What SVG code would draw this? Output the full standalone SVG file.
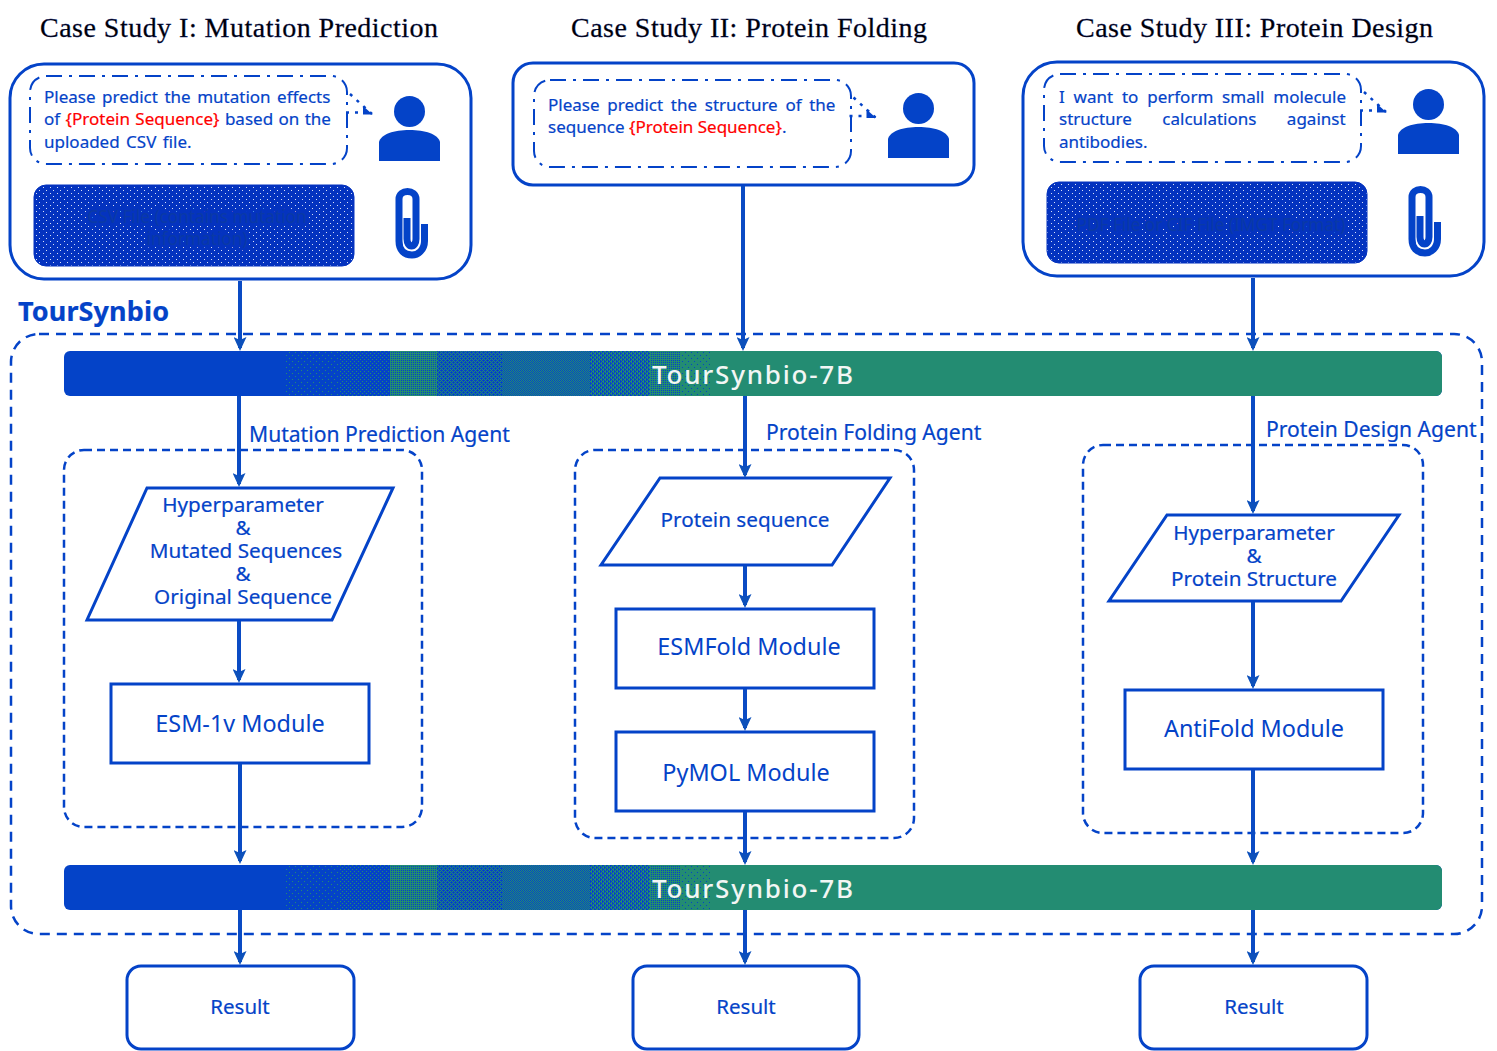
<svg xmlns="http://www.w3.org/2000/svg" width="1497" height="1051" viewBox="0 0 1497 1051">
<defs>
<pattern id="d1" width="6" height="6" patternUnits="userSpaceOnUse"><rect x="1" y="1" width="1" height="1" fill="#238c72"/><rect x="4" y="4" width="1" height="1" fill="#238c72"/></pattern>
<pattern id="d2" width="4" height="4" patternUnits="userSpaceOnUse"><rect x="0" y="0" width="1" height="1" fill="#238c72"/><rect x="2" y="2" width="1" height="1" fill="#238c72"/></pattern>
<pattern id="d3" width="2" height="2" patternUnits="userSpaceOnUse"><rect width="1" height="1" fill="#238c72"/></pattern>
<pattern id="d4" width="4" height="4" patternUnits="userSpaceOnUse"><rect width="1" height="1" fill="#238c72"/><rect x="2" width="1" height="1" fill="#238c72"/><rect y="2" width="1" height="1" fill="#238c72"/><rect x="2" y="2" width="1" height="1" fill="#238c72"/><rect x="1" y="1" width="1" height="1" fill="#238c72"/><rect x="3" y="3" width="1" height="1" fill="#238c72"/></pattern>
<pattern id="d5" width="2" height="2" patternUnits="userSpaceOnUse"><rect width="1" height="1" fill="#238c72"/><rect x="1" y="1" width="1" height="1" fill="#238c72"/></pattern>
<pattern id="d7" width="4" height="4" patternUnits="userSpaceOnUse"><path d="M0 0h2v1h-2zM1 1h1v1h-1zM3 1h1v1h-1zM2 2h2v1h-2zM1 3h1v1h-1zM3 3h1v1h-1z" fill="#238c72"/></pattern>
<pattern id="d6" width="2" height="2" patternUnits="userSpaceOnUse"><rect width="2" height="1" fill="#238c72"/><rect y="1" width="1" height="1" fill="#238c72"/></pattern>
<pattern id="d8" width="6" height="6" patternUnits="userSpaceOnUse"><rect width="6" height="6" fill="#238c72"/><rect x="1" y="1" width="1" height="1" fill="#0443c8"/><rect x="4" y="4" width="1" height="1" fill="#0443c8"/></pattern>
<pattern id="dots" width="7" height="6" patternUnits="userSpaceOnUse"><rect width="7" height="6" fill="#0433bf"/><rect x="1" y="1" width="1" height="1" fill="#fff" opacity=".85"/><rect x="4" y="4" width="1" height="1" fill="#fff" opacity=".85"/></pattern>
<marker id="arr" viewBox="0 0 14 13" refX="11" refY="6.500" markerWidth="14" markerHeight="13" markerUnits="userSpaceOnUse" orient="auto"><path d="M0 0L14 6.500L0 13L3 6.500Z" fill="#0c50bb"/></marker>
<g id="user"><circle cx="30.500" cy="15.500" r="15.500" fill="#0443c8"/><path d="M0 65V46C2 38 15 34 30.500 34C46 34 59 38 61 46V65Z" fill="#0443c8"/></g>
<g id="clip"><path d="M29.500 36V53C29.500 62 23 67 17 67C9 67 4 62 4 53V11C4 6 8 3.500 12.500 3.500C17 3.500 21 6 21 11V51C21 55 19 58 16.500 58C14 58 12 55 12 51V30" fill="none" stroke="#0443c8" stroke-width="7"/></g>
<g id="tail"><path d="M350 94L372 114" fill="none" stroke="#0443c8" stroke-width="2.500" stroke-dasharray="3 6"/><path d="M346 112.500H362" fill="none" stroke="#0443c8" stroke-width="2.500" stroke-dasharray="3 6"/><path d="M363 106L372.700 114.500H363Z" fill="#0443c8"/></g>
<g id="dither">
<rect x="64" width="1378" height="45" rx="6" fill="#0443c8"/>
<rect x="710" width="732" height="45" rx="6" fill="#238c72"/>
<rect x="700" width="30" height="45" fill="#238c72"/>
<rect x="285" width="55" height="45" fill="url(#d1)"/>
<rect x="340" width="50" height="45" fill="url(#d2)"/>
<rect x="390" width="47" height="45" fill="url(#d6)"/>
<rect x="437" width="66" height="45" fill="url(#d4)"/>
<rect x="503" width="87" height="45" fill="url(#d5)"/>
<rect x="590" width="60" height="45" fill="url(#d7)"/>
<rect x="650" width="30" height="45" fill="url(#d6)"/>
<rect x="680" width="30" height="45" fill="url(#d8)"/>
</g>
<style>
.t{font-family:"Noto Sans","Open Sans","Liberation Sans",sans-serif;fill:#0443c8;stroke:#0443c8;stroke-width:.2}
.h{font-family:"Liberation Serif",serif;font-size:28px;fill:#000;stroke:#0a1a70;stroke-width:.3}
.b{font-size:17px}
.m{font-size:20.700px;text-anchor:middle}
.mod{font-size:23.400px;text-anchor:middle;stroke-width:0}
.ag{font-size:21.100px}
.c{fill:none;stroke:#0a4bc4;stroke-width:4;marker-end:url(#arr)}
.card{fill:#fff;stroke:#0443c8;stroke-width:3}
.bub{fill:#fff;stroke:#0443c8;stroke-width:2;stroke-dasharray:16 7 3 7}
.dash{fill:none;stroke:#0443c8;stroke-width:2.500;stroke-dasharray:8 5}
.outer{fill:none;stroke:#0443c8;stroke-width:2.500;stroke-dasharray:10 7}
.shape{fill:#fff;stroke:#0443c8;stroke-width:3}
.file{fill:url(#dots);stroke:#0433bf;stroke-width:1}
.ft{font-size:17.200px;fill:#0a3aa6;stroke:#0433bf;stroke-width:5px;paint-order:stroke;stroke-linejoin:round;text-anchor:middle}
.bt{font-family:"Noto Sans","Open Sans",sans-serif;font-size:26px;font-weight:500;fill:#f2f6f4}
.red{fill:#f00;stroke:#f00}
</style>
</defs>
<rect width="1497" height="1051" fill="#fff"/>
<text class="h" x="40" y="37" textLength="398">Case Study I: Mutation Prediction</text>
<text class="h" x="571" y="37" textLength="356">Case Study II: Protein Folding</text>
<text class="h" x="1076" y="37" textLength="357">Case Study III: Protein Design</text>

<g id="system">
<rect x="11" y="334" width="1471" height="600" rx="28" class="outer"/>
<text class="t" x="18" y="321" font-size="27" font-weight="700" textLength="151">TourSynbio</text>
</g>

<g id="bar-top">
<use href="#dither" y="351"/>
<text class="bt" x="652" y="384" textLength="201">TourSynbio-7B</text>
</g>
<g id="bar-bottom">
<use href="#dither" y="865"/>
<text class="bt" x="652" y="898" textLength="201">TourSynbio-7B</text>
</g>

<g id="case1">
<rect x="10" y="64" width="461" height="215" rx="34" class="card"/>
<rect x="30" y="76" width="317" height="88" rx="16" class="bub"/>
<use href="#tail"/>
<text class="t b"><tspan x="44" y="103" word-spacing="2.100">Please predict the mutation effects</tspan><tspan x="44" y="125" word-spacing="1">of <tspan class="red">{Protein Sequence}</tspan> based on the</tspan><tspan x="44" y="148" word-spacing="2">uploaded CSV file.</tspan></text>
<use href="#user" x="379" y="96"/>
<rect x="34" y="185" width="320" height="81" rx="12" class="file"/>
<text class="t ft" x="197" y="223">CSV File (contains mutation</text><text class="t ft" x="197" y="245">information)</text>
<use href="#clip" x="395" y="188"/>
</g>

<g id="case2">
<rect x="513" y="63" width="461" height="122" rx="20" class="card"/>
<rect x="534" y="80" width="317" height="87" rx="16" class="bub"/>
<use href="#tail" x="503.500" y="3.500"/>
<text class="t b"><tspan x="548" y="111" word-spacing="3.300">Please predict the structure of the</tspan><tspan x="548" y="133">sequence <tspan class="red">{Protein Sequence}</tspan>.</tspan></text>
<use href="#user" x="888" y="93"/>
</g>

<g id="case3">
<rect x="1023" y="62" width="461" height="214" rx="34" class="card"/>
<rect x="1044" y="74" width="317" height="88" rx="16" class="bub"/>
<use href="#tail" x="1014" y="-2"/>
<text class="t b"><tspan x="1059" y="103" word-spacing="4.400">I want to perform small molecule</tspan><tspan x="1059" y="125" word-spacing="26">structure calculations against</tspan><tspan x="1059" y="148">antibodies.</tspan></text>
<use href="#user" x="1398" y="89"/>
<rect x="1047" y="182" width="320" height="81" rx="12" class="file"/>
<text class="t ft" x="1211" y="231">PDF File or CIF File (IMGT Format)</text>
<use href="#clip" x="1408" y="186"/>
</g>

<g id="agent-mutation">
<text class="t ag" x="249" y="442">Mutation Prediction Agent</text>
<rect x="64" y="450" width="358" height="377" rx="20" class="dash"/>
</g>
<g id="agent-folding">
<text class="t ag" x="766" y="440">Protein Folding Agent</text>
<rect x="575" y="450" width="339" height="388" rx="20" class="dash"/>
</g>
<g id="agent-design">
<text class="t ag" x="1266" y="437">Protein Design Agent</text>
<rect x="1083" y="445" width="340" height="388" rx="20" class="dash"/>
</g>

<g id="input1">
<path class="shape" d="M147 488H393L332 620H87Z"/>
<text class="t m"><tspan x="243" y="512">Hyperparameter</tspan><tspan x="243" y="535">&amp;</tspan><tspan x="246" y="558">Mutated Sequences</tspan><tspan x="243" y="581">&amp;</tspan><tspan x="243" y="604">Original Sequence</tspan></text>
</g>
<g id="esm1v"><rect x="111" y="684" width="258" height="79" class="shape"/><text class="t mod" x="240" y="732">ESM-1v Module</text></g>

<g id="input2">
<path class="shape" d="M660 478H890L832 565H601Z"/>
<text class="t m" x="745" y="527">Protein sequence</text>
</g>
<g id="esmfold"><rect x="616" y="609" width="258" height="79" class="shape"/><text class="t mod" x="749" y="655">ESMFold Module</text></g>
<g id="pymol"><rect x="616" y="732" width="258" height="79" class="shape"/><text class="t mod" x="746" y="781">PyMOL Module</text></g>

<g id="input3">
<path class="shape" d="M1167 515H1399L1341 601H1109Z"/>
<text class="t m"><tspan x="1254" y="540">Hyperparameter</tspan><tspan x="1254" y="563">&amp;</tspan><tspan x="1254" y="586">Protein Structure</tspan></text>
</g>
<g id="antifold"><rect x="1125" y="690" width="258" height="79" class="shape"/><text class="t mod" x="1254" y="737">AntiFold Module</text></g>

<g id="result1"><rect x="127" y="966" width="227" height="83" rx="14" class="shape"/><text class="t" x="240" y="1014" font-size="20.500" text-anchor="middle">Result</text></g>
<g id="result2"><rect x="633" y="966" width="226" height="83" rx="14" class="shape"/><text class="t" x="746" y="1014" font-size="20.500" text-anchor="middle">Result</text></g>
<g id="result3"><rect x="1140" y="966" width="227" height="83" rx="14" class="shape"/><text class="t" x="1254" y="1014" font-size="20.500" text-anchor="middle">Result</text></g>

<g id="connectors">
<path class="c" d="M240 281V348"/>
<path class="c" d="M743 186V348"/>
<path class="c" d="M1253 278V348"/>
<path class="c" d="M239 396V484"/>
<path class="c" d="M745 396V475"/>
<path class="c" d="M1253 396V511"/>
<path class="c" d="M239 621V680"/>
<path class="c" d="M745 566V605"/>
<path class="c" d="M1253 602V686"/>
<path class="c" d="M745 689V728"/>
<path class="c" d="M240 764V861"/>
<path class="c" d="M745 812V862"/>
<path class="c" d="M1253 770V862"/>
<path class="c" d="M240 910V962"/>
<path class="c" d="M745 910V962"/>
<path class="c" d="M1253 910V962"/>
</g>
</svg>
